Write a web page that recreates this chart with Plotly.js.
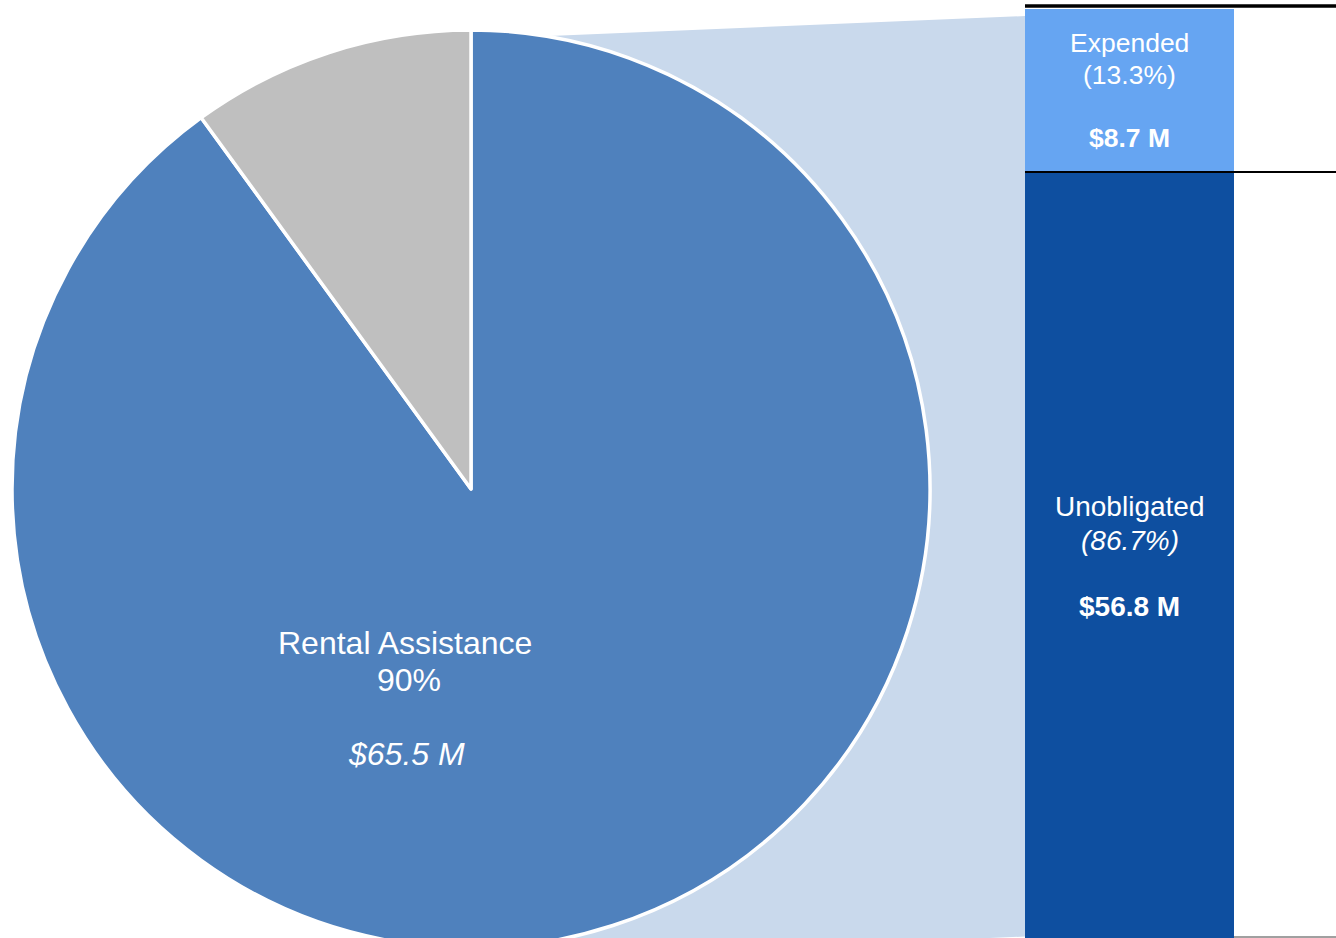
<!DOCTYPE html>
<html>
<head>
<meta charset="utf-8">
<script src="https://cdn.plot.ly/plotly-3.0.1.min.js"></script>
<style>
html,body{margin:0;padding:0;width:1336px;height:938px;overflow:hidden;background:#fff;}
#chart{width:1336px;height:960px;}
</style>
</head>
<body>
<div id="chart"></div>
<script>
// ---- data ----
const pieLabels = ['Rental Assistance', 'Other'];
const pieShares = [90, 10];
const pieAmounts = [65.5, 7.3];
const pieColors = ['#4F81BD', '#BFBFBF'];

const barCategories = ['Unobligated', 'Expended'];
const barValues = [56.8, 8.7];
const barShares = ['86.7%', '13.3%'];
const barColors = ['#0E4FA0', '#66A5F2'];

// ---- layout helpers (pixels -> paper) ----
const W = 1336, H = 960;
const px = x => x / W;
const py = y => 1 - y / H;

const pie = {
  type: 'pie',
  labels: pieLabels,
  values: pieShares,
  sort: false,
  direction: 'clockwise',
  rotation: 0,
  textinfo: 'none',
  hoverinfo: 'none',
  marker: {colors: pieColors, line: {color: '#FFFFFF', width: 3.5}},
  domain: {x: [px(12), px(930)], y: [py(948), py(30)]},
  showlegend: false
};

const bars = barCategories.map((c, i) => ({
  type: 'bar',
  x: [0],
  y: [barValues[i]],
  width: [1],
  name: c,
  marker: {color: barColors[i], line: {width: 0}},
  hoverinfo: 'none',
  showlegend: false,
  xaxis: 'x', yaxis: 'y'
}));

// bar scale: top of total bar at pixel 9, divider at pixel 172
const total = barValues[0] + barValues[1];
const k = (172 - 9) / barValues[1];
const yTop = total + 9 / k;
const yBot = yTop - H / k;

const font = 'Liberation Sans, Arial, sans-serif';
function ann(text, x, y, size) {
  return {text: text, xref: 'paper', yref: 'paper', x: px(x), y: py(y),
    xanchor: 'center', yanchor: 'middle', showarrow: false,
    font: {family: font, size: size, color: '#FFFFFF'}};
}

const annotations = [
  ann(pieLabels[0], 405, 643, 32),
  ann(pieShares[0] + '%', 409, 680, 32),
  ann('<i>$' + pieAmounts[0] + ' M</i>', 406, 754, 32),
  ann(barCategories[1], 1129.5, 43, 26.5),
  ann('(' + barShares[1] + ')', 1129.5, 75, 26.5),
  ann('<b>$' + barValues[1] + ' M</b>', 1129.5, 138, 26.5),
  ann(barCategories[0], 1129.5, 506, 28),
  ann('<i>(' + barShares[0] + ')</i>', 1129.5, 540, 28),
  ann('<b>$' + barValues[0] + ' M</b>', 1129.5, 606, 28)
];

const shapes = [
  // connector between pie and bar
  {type: 'path', xref: 'paper', yref: 'paper', layer: 'below',
   path: 'M ' + px(470) + ' ' + py(39.3) + ' L ' + px(1025) + ' ' + py(16) +
         ' L ' + px(1025) + ' ' + py(936.5) + ' L ' + px(470) + ' ' + py(960) + ' Z',
   fillcolor: '#C9D9EC', line: {width: 0}},
  {type: 'line', xref: 'paper', yref: 'paper', layer: 'above',
   x0: px(1025), x1: 1, y0: py(6), y1: py(6), line: {color: '#000000', width: 3.5}},
  {type: 'line', xref: 'paper', yref: 'paper', layer: 'above',
   x0: px(1025), x1: 1, y0: py(172), y1: py(172), line: {color: '#000000', width: 2}},
  {type: 'line', xref: 'paper', yref: 'paper', layer: 'above',
   x0: px(1234), x1: 1, y0: py(937), y1: py(937), line: {color: '#808080', width: 1.5}}
];

const layout = {
  width: W, height: H,
  margin: {l: 0, r: 0, t: 0, b: 0, pad: 0},
  paper_bgcolor: '#FFFFFF', plot_bgcolor: 'rgba(0,0,0,0)',
  barmode: 'stack', bargap: 0,
  xaxis: {domain: [px(1025), px(1234)], range: [-0.5, 0.5], visible: false, fixedrange: true},
  yaxis: {domain: [0, 1], range: [yBot, yTop], visible: false, fixedrange: true},
  annotations: annotations,
  shapes: shapes,
  hovermode: false,
  showlegend: false
};

Plotly.newPlot('chart', [pie].concat(bars), layout, {displayModeBar: false, staticPlot: true});
</script>
</body>
</html>
